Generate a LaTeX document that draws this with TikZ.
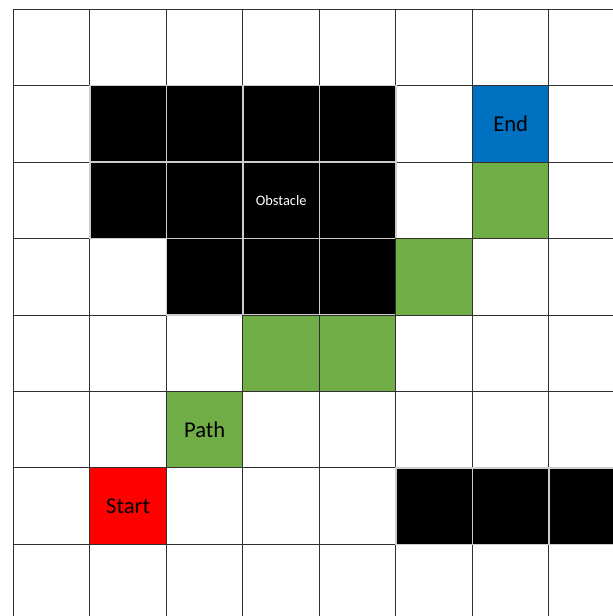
\documentclass[tikz,border=0pt]{standalone}
\usepackage{fontspec}
\setmainfont{Carlito}
\definecolor{pathgreen}{HTML}{70AD47}
\definecolor{endblue}{HTML}{0070C0}
\definecolor{startred}{HTML}{FF0000}
\definecolor{gridgray}{HTML}{303030}
\tikzset{
	cell/.style = {minimum size=76.5pt, inner sep=0pt, line width=1pt, font=\fontsize{22.6pt}{26pt}\selectfont},
	wall/.style = {cell, fill=black, draw=black!20, line width=1.6pt, text=white, font=\fontsize{14.4pt}{17pt}\selectfont},
	pathcell/.style = {cell, fill=pathgreen, draw=gridgray},
	endcell/.style = {cell, fill=endblue, draw=gridgray},
	startcell/.style = {cell, fill=startred, draw=gridgray}
}
\begin{document}
\begin{tikzpicture}[x=76.5pt, y=-76.5pt]
	\useasboundingbox (-0.176, -0.118) rectangle (7.837, 7.935);
	
	% grid
	\foreach \i in {0,...,7} {
		\draw [gridgray, line width=1pt] (\i, 0) -- (\i, 7.935);
		\draw [gridgray, line width=1pt] (0, \i) -- (7.837, \i);
	}
	
	% obstacles
	\foreach \c in {1,2,3,4} \node [wall] (w1\c) at (\c+0.5, 1.5) {};
	\foreach \c in {1,2,4} \node [wall] (w2\c) at (\c+0.5, 2.5) {};
	\node [wall] (w23) at (3.5, 2.5) {Obstacle};
	\foreach \c in {2,3,4} \node [wall] (w3\c) at (\c+0.5, 3.5) {};
	\foreach \c in {5,6,7} \node [wall] (w6\c) at (\c+0.5, 6.5) {};
	
	% start, path, end
	\node [startcell] (start) at (1.5, 6.5) {Start};
	\node [pathcell] (p52) at (2.5, 5.5) {Path};
	\node [pathcell] (p43) at (3.5, 4.5) {};
	\node [pathcell] (p44) at (4.5, 4.5) {};
	\node [pathcell] (p35) at (5.5, 3.5) {};
	\node [pathcell] (p26) at (6.5, 2.5) {};
	\node [endcell] (end) at (6.5, 1.5) {End};
\end{tikzpicture}
\end{document}
